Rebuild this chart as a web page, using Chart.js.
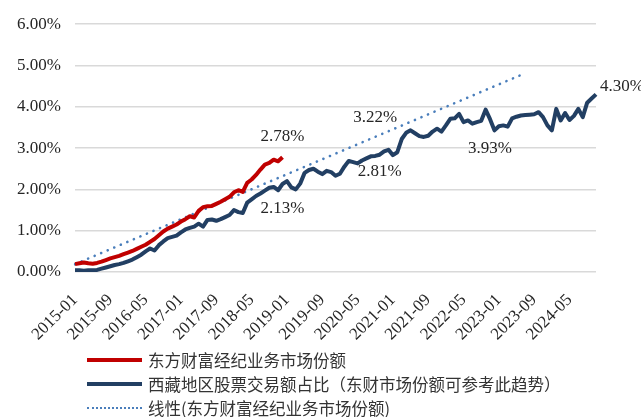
<!DOCTYPE html>
<html>
<head>
<meta charset="utf-8">
<script src="https://cdn.jsdelivr.net/npm/chart.js@4.4.1/dist/chart.umd.min.js"></script>
<style>
  html, body { margin: 0; padding: 0; background: #fff; }
  #wrap { position: relative; width: 641px; height: 417px; }
  #legend { position: absolute; left: 87px; top: 348px; font-family: "Noto Sans CJK SC", sans-serif; font-size: 16.5px; color: #333; }
  .row { height: 24px; display: flex; align-items: center; white-space: nowrap; }
  .mark { width: 55px; margin-right: 6px; }
</style>
</head>
<body>
<div id="wrap">
  <canvas id="shareChart" width="641" height="417"></canvas>
  <div id="legend"></div>
</div>
<script>
// monthly categories 2015-01 .. 2024-11
const months = [];
for (let yr = 2015; yr <= 2024; yr++) {
  for (let mo = 1; mo <= 12; mo++) {
    if (yr === 2024 && mo > 11) break;
    months.push(yr + "-" + String(mo).padStart(2, "0"));
  }
}

// 东方财富经纪业务市场份额 (%), 2015-01 .. 2018-12
const dfcfShare = [
  0.19, 0.21, 0.23, 0.21, 0.20, 0.22, 0.25, 0.29, 0.33, 0.36, 0.39, 0.43,
  0.47, 0.51, 0.56, 0.61, 0.66, 0.73, 0.80, 0.89, 0.98, 1.05, 1.10, 1.15,
  1.22, 1.28, 1.35, 1.32, 1.48, 1.57, 1.59, 1.60, 1.65, 1.70, 1.76, 1.82,
  1.93, 1.98, 1.94, 2.16, 2.24, 2.35, 2.48, 2.60, 2.64, 2.72, 2.68, 2.78
];

// 西藏地区股票交易额占比 (%), 2015-01 .. 2024-11
const tibetShare = [
  0.04, 0.04, 0.03, 0.04, 0.04, 0.05, 0.08, 0.11, 0.14, 0.17, 0.19, 0.22,
  0.26, 0.30, 0.36, 0.42, 0.50, 0.57, 0.52, 0.65, 0.74, 0.82, 0.85, 0.88,
  0.96, 1.03, 1.07, 1.10, 1.17, 1.10, 1.26, 1.27, 1.24, 1.28, 1.33, 1.38,
  1.50, 1.45, 1.43, 1.68, 1.76, 1.84, 1.90, 1.97, 2.04, 2.06, 1.98, 2.13,
  2.20, 2.05, 2.00, 2.14, 2.40, 2.47, 2.50, 2.43, 2.37, 2.45, 2.42, 2.33,
  2.38, 2.55, 2.69, 2.66, 2.63, 2.70, 2.75, 2.80, 2.81, 2.84, 2.92, 2.96,
  2.83, 2.90, 3.22, 3.37, 3.43, 3.36, 3.29, 3.27, 3.30, 3.40, 3.47, 3.40,
  3.55, 3.71, 3.72, 3.83, 3.63, 3.67, 3.59, 3.63, 3.66, 3.93, 3.70, 3.43,
  3.53, 3.55, 3.52, 3.72, 3.76, 3.79, 3.80, 3.81, 3.82, 3.87, 3.75, 3.55,
  3.43, 3.95, 3.67, 3.85, 3.68, 3.78, 3.95, 3.75, 4.10, 4.20, 4.30
];

// 线性趋势线 endpoints: [month index, value]
const trendEnds = [[0, 0.19], [101, 4.77]];

const yTicks = [0, 1, 2, 3, 4, 5, 6];

// data labels: text and [month index, value] where they sit
const noteText = ["2.78%", "2.13%", "3.22%", "2.81%", "3.93%", "4.30%"];
const noteAt = [[47, 3.29], [47, 1.54], [68, 3.74], [69, 2.44], [94, 2.98], [118, 4.49]];
const noteAlign = ["center", "center", "center", "center", "center", "left"];

const seriesNames = [
  "东方财富经纪业务市场份额",
  "西藏地区股票交易额占比（东财市场份额可参考此趋势）",
  "线性(东方财富经纪业务市场份额)"
];
const seriesColors = ["#c00000", "#223f63", "#4a7ebb"];

const trendData = months.map(() => null);
trendEnds.forEach(([i, v]) => { trendData[i] = v; });

const notesPlugin = {
  id: "notes",
  afterDatasetsDraw(chart) {
    const { ctx, scales: { x, y } } = chart;
    ctx.save();
    ctx.font = '17px "Liberation Serif"';
    ctx.fillStyle = "#262626";
    ctx.textBaseline = "middle";
    noteText.forEach((t, i) => {
      ctx.textAlign = noteAlign[i];
      const off = noteAlign[i] === "left" ? 4 : 0;
      ctx.fillText(t, x.getPixelForValue(noteAt[i][0]) + off, y.getPixelForValue(noteAt[i][1]));
    });
    ctx.restore();
  }
};

const ctx = document.getElementById("shareChart").getContext("2d");
const shareChart = new Chart(ctx, {
  type: "line",
  data: {
    labels: months,
    datasets: [
      {
        label: seriesNames[2],
        data: trendData,
        borderColor: seriesColors[2],
        borderWidth: 2.6,
        borderDash: [0.1, 7],
        borderCapStyle: "round",
        spanGaps: true,
        pointRadius: 0,
        order: 3,
      },
      {
        label: seriesNames[1],
        data: tibetShare,
        borderColor: seriesColors[1],
        borderWidth: 4,
        borderJoinStyle: "round",
        pointRadius: 0,
        order: 2,
      },
      {
        label: seriesNames[0],
        data: dfcfShare,
        borderColor: seriesColors[0],
        borderWidth: 4,
        borderJoinStyle: "round",
        pointRadius: 0,
        order: 1,
      },
    ],
  },
  options: {
    responsive: false,
    animation: false,
    devicePixelRatio: 1,
    layout: { padding: { top: 18, right: 45, bottom: 75, left: 0 } },
    scales: {
      x: {
        offset: false,
        grid: { display: false },
        border: { display: false },
        afterFit: (s) => { s.height = 70; },
        ticks: {
          autoSkip: false,
          maxRotation: 45,
          minRotation: 45,
          padding: 10,
          color: "#262626",
          font: { family: "Liberation Serif", size: 17 },
          callback: (val, idx) => (idx % 8 === 0 ? months[idx] : ""),
        },
      },
      y: {
        min: yTicks[0],
        max: yTicks[yTicks.length - 1],
        afterFit: (s) => { s.width = 75; },
        afterBuildTicks: (s) => { s.ticks = yTicks.map((v) => ({ value: v })); },
        grid: { color: "#d9d9d9", lineWidth: 1.5, drawTicks: false },
        border: { display: false },
        ticks: {
          padding: 14,
          color: "#262626",
          font: { family: "Liberation Serif", size: 17 },
          callback: (v) => v.toFixed(2) + "%",
        },
      },
    },
    plugins: {
      legend: { display: false },
      title: { display: false },
      tooltip: { enabled: false },
    },
  },
  plugins: [notesPlugin],
});

// legend below the chart, one row per series
const legend = document.getElementById("legend");
[0, 1, 2].forEach((i) => {
  const row = document.createElement("div");
  row.className = "row";
  const mark = document.createElement("span");
  mark.className = "mark";
  mark.style.borderTop = i === 2 ? "2.5px dotted " + seriesColors[i] : "4px solid " + seriesColors[i];
  const txt = document.createElement("span");
  txt.textContent = seriesNames[i];
  row.appendChild(mark);
  row.appendChild(txt);
  legend.appendChild(row);
});
</script>
</body>
</html>
